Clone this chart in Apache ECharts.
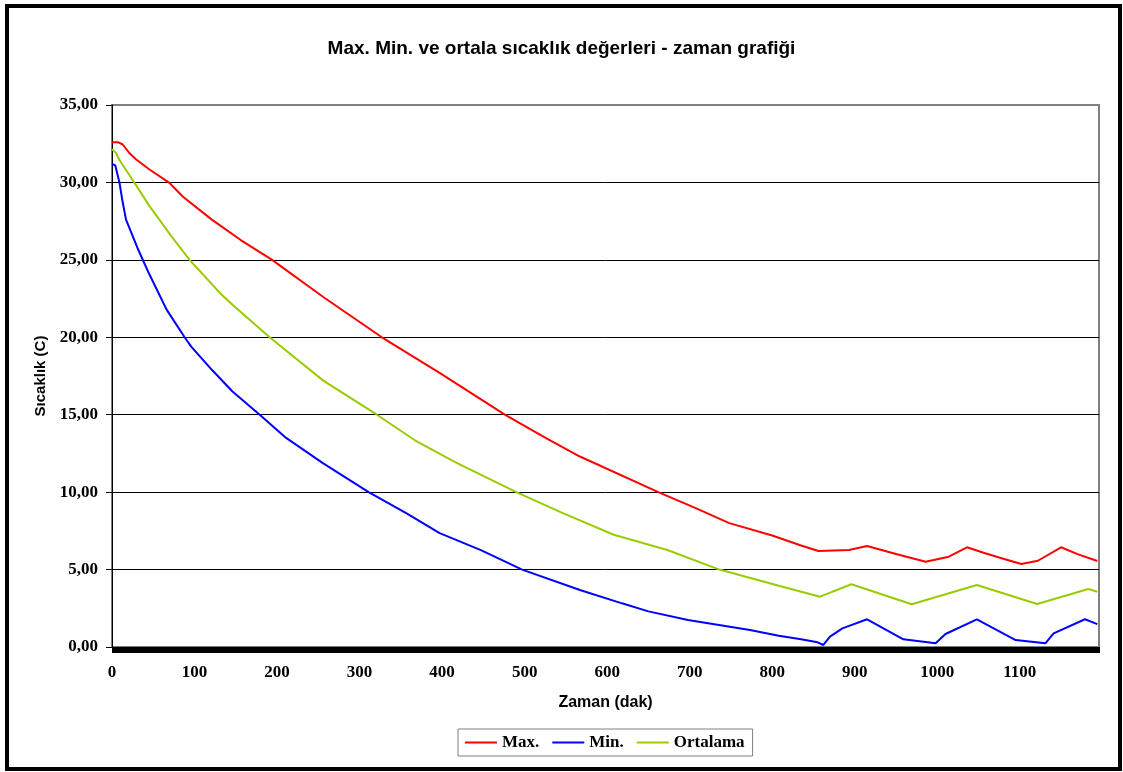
<!DOCTYPE html>
<html>
<head>
<meta charset="utf-8">
<script src="https://cdn.jsdelivr.net/npm/echarts@6/dist/echarts.min.js"></script>
<style>
html,body{margin:0;padding:0;background:#fff;}
#chart{width:1123px;height:772px;}
</style>
</head>
<body>
<div id="chart"></div>
<script>
// ---- data ----
const seriesNames = ['Max.', 'Min.', 'Ortalama'];

const maxTimes  = [0, 7, 13, 21, 29, 45, 70, 86, 121, 156, 194, 256, 327, 397, 476, 527, 567, 662, 708, 748, 800, 835, 856, 893, 915, 950, 986, 1014, 1036, 1058, 1080, 1102, 1122, 1150, 1170, 1194];
const maxValues = [32.6, 32.6, 32.45, 31.9, 31.5, 30.85, 29.95, 29.08, 27.6, 26.28, 25.0, 22.6, 20.0, 17.7, 15.0, 13.45, 12.3, 10.0, 8.95, 8.0, 7.2, 6.55, 6.2, 6.26, 6.52, 6.0, 5.51, 5.83, 6.44, 6.05, 5.7, 5.36, 5.57, 6.44, 6.0, 5.55];

const minTimes  = [0, 4, 9, 13, 17, 23, 31, 45, 66, 88, 96, 121, 146, 179, 211, 256, 311, 357, 397, 447, 497, 567, 618, 650, 698, 773, 808, 835, 855, 862, 870, 885, 915, 959, 998, 1010, 1048, 1095, 1131, 1141, 1179, 1194];
const minValues = [31.2, 31.1, 30.0, 28.7, 27.6, 26.8, 25.75, 24.1, 21.8, 20.0, 19.4, 17.9, 16.5, 15.0, 13.5, 11.86, 10.0, 8.63, 7.35, 6.26, 5.0, 3.68, 2.82, 2.3, 1.74, 1.1, 0.73, 0.5, 0.3, 0.13, 0.67, 1.2, 1.79, 0.5, 0.24, 0.84, 1.79, 0.45, 0.24, 0.88, 1.79, 1.48];

const avgTimes  = [0, 5, 9, 27, 45, 71, 94, 131, 146, 191, 256, 321, 367, 417, 490, 547, 608, 673, 736, 808, 858, 896, 969, 1048, 1121, 1183, 1194];
const avgValues = [32.15, 31.9, 31.45, 30.0, 28.5, 26.6, 25.0, 22.85, 22.1, 20.0, 17.2, 15.0, 13.35, 11.9, 10.0, 8.63, 7.25, 6.26, 5.0, 3.96, 3.25, 4.05, 2.76, 4.0, 2.78, 3.75, 3.57];

const xTicks = [0, 100, 200, 300, 400, 500, 600, 700, 800, 900, 1000, 1100];
const yTicks = [0, 5, 10, 15, 20, 25, 30, 35];

const titleText = 'Max. Min. ve ortala sıcaklık değerleri - zaman grafiği';
const xName = 'Zaman (dak)';
const yName = 'Sıcaklık (C)';

function pairs(ts, vs) { return ts.map((t, i) => [t, vs[i]]); }

const chart = echarts.init(document.getElementById('chart'), null, {renderer: 'canvas'});
const serif = '"Liberation Serif", "Times New Roman", serif';
const sans = '"Liberation Sans", Arial, sans-serif';
const xMax = 1196;

chart.setOption({
  animation: false,
  backgroundColor: '#fff',
  title: {
    text: titleText,
    left: 'center',
    top: 34,
    textStyle: {fontFamily: sans, fontWeight: 'bold', fontSize: 19, color: '#000'}
  },
  graphic: [{
    type: 'rect',
    shape: {x: 7, y: 6, width: 1113, height: 763},
    style: {fill: 'none', stroke: '#000', lineWidth: 4},
    z: 100
  }],
  legend: {
    data: seriesNames,
    left: 458,
    top: 729,
    orient: 'horizontal',
    icon: 'rect',
    itemWidth: 32,
    itemHeight: 2,
    itemGap: 13,
    padding: [5, 8, 5, 7],
    borderColor: '#808080',
    borderWidth: 1,
    textStyle: {fontFamily: serif, fontWeight: 'bold', fontSize: 17, color: '#000'}
  },
  grid: {
    left: 112, right: 24, top: 105, bottom: 125,
    show: true, borderColor: '#808080', borderWidth: 2, backgroundColor: 'transparent'
  },
  xAxis: [{
    type: 'value',
    min: xTicks[0],
    max: xMax,
    interval: 100,
    name: xName,
    nameLocation: 'middle',
    nameGap: 48,
    nameTextStyle: {fontFamily: sans, fontWeight: 'bold', fontSize: 16, color: '#000'},
    axisLine: {show: true, onZero: false, lineStyle: {color: '#000', width: 1}},
    axisTick: {show: true, length: 6, lineStyle: {color: '#000'}},
    axisLabel: {
      margin: 17, showMaxLabel: false, showMinLabel: true,
      fontFamily: serif, fontWeight: 'bold', fontSize: 17, color: '#000',
      formatter: v => (xTicks.indexOf(v) >= 0 ? String(v) : '')
    },
    splitLine: {show: false}
  }, {
    // dense category tick marks along the bottom axis
    type: 'value',
    position: 'bottom',
    min: 0,
    max: xMax,
    interval: 1,
    axisLine: {show: false},
    axisTick: {show: true, length: 6, lineStyle: {color: '#000', width: 1}},
    axisLabel: {show: false},
    splitLine: {show: false}
  }],
  yAxis: {
    type: 'value',
    min: yTicks[0],
    max: yTicks[yTicks.length - 1],
    interval: 5,
    name: yName,
    nameLocation: 'middle',
    nameGap: 64,
    nameTextStyle: {fontFamily: sans, fontWeight: 'bold', fontSize: 15, color: '#000'},
    axisLine: {show: true, lineStyle: {color: '#000', width: 1}},
    axisTick: {show: true, length: 6, lineStyle: {color: '#000'}},
    axisLabel: {
      margin: 14,
      fontFamily: serif, fontWeight: 'bold', fontSize: 17, color: '#000',
      formatter: v => v.toFixed(2).replace('.', ',')
    },
    splitLine: {show: true, showMaxLine: false, lineStyle: {color: '#000', width: 1}}
  },
  series: [
    {name: seriesNames[0], type: 'line', xAxisIndex: 0, data: pairs(maxTimes, maxValues), showSymbol: false, symbol: 'none',
     lineStyle: {color: '#FF0000', width: 2}, itemStyle: {color: '#FF0000'}},
    {name: seriesNames[1], type: 'line', xAxisIndex: 0, data: pairs(minTimes, minValues), showSymbol: false, symbol: 'none',
     lineStyle: {color: '#0000FF', width: 2}, itemStyle: {color: '#0000FF'}},
    {name: seriesNames[2], type: 'line', xAxisIndex: 0, data: pairs(avgTimes, avgValues), showSymbol: false, symbol: 'none',
     lineStyle: {color: '#99CC00', width: 2}, itemStyle: {color: '#99CC00'}}
  ]
});
</script>
</body>
</html>
